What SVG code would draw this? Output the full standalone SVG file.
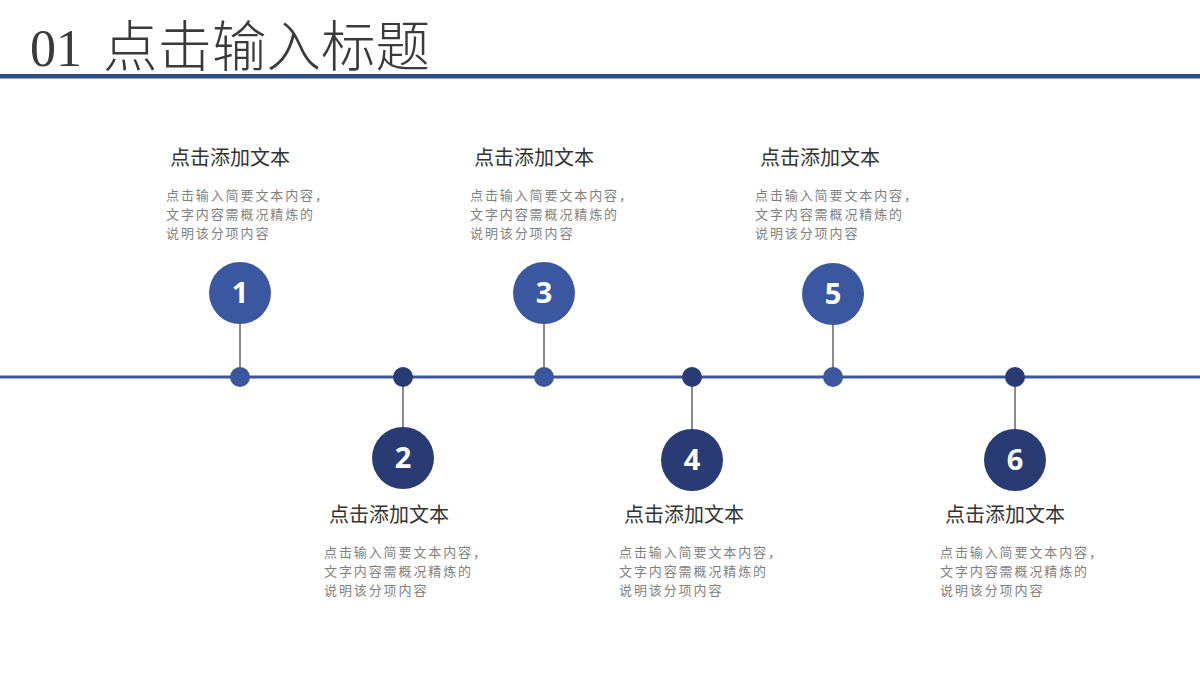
<svg xmlns="http://www.w3.org/2000/svg" width="1200" height="680" viewBox="0 0 1200 680">
<style>
.title{font-family:"Liberation Serif","Noto Sans CJK SC",serif;font-size:52px;fill:#3a3a3a}
.h{font-family:"Microsoft YaHei","Noto Sans CJK SC",sans-serif;font-size:20px;fill:#333}
.b{font-family:"Microsoft YaHei","Noto Sans CJK SC",sans-serif;font-size:13px;letter-spacing:1.9px;fill:#7f7f7f}
.num{font-family:"Open Sans","Noto Sans",sans-serif;font-weight:bold;font-size:29px;fill:#fff;text-anchor:middle}
.light{fill:#3a57a0}
.dark{fill:#283b73}
.stem{stroke:#8c8c8c;stroke-width:2}
</style>
<rect width="1200" height="680" fill="#fff"/>
<g id="header">
<text class="title" x="30" y="66">01</text>
<text class="title" x="103" y="66" style="font-size:54.5px;font-weight:300">点击输入标题</text>
<rect x="0" y="74" width="1200" height="4.5" fill="#2f4a84"/>
</g>
<g id="connectors">
<rect x="0" y="375.5" width="1200" height="3" fill="#3a57a0"/>
<line class="stem" x1="240" y1="323" x2="240" y2="377"/>
<line class="stem" x1="403" y1="377" x2="403" y2="428"/>
<line class="stem" x1="544" y1="323" x2="544" y2="377"/>
<line class="stem" x1="692" y1="377" x2="692" y2="430"/>
<line class="stem" x1="833" y1="324" x2="833" y2="377"/>
<line class="stem" x1="1015" y1="377" x2="1015" y2="430"/>
</g>
<g id="node1">
<circle class="light" cx="240" cy="377" r="10"/>
<circle class="light" cx="240" cy="293" r="31"/>
<text class="num" x="240" y="303">1</text>
<text class="h" x="170" y="165">点击添加文本</text>
<text class="b"><tspan x="166" y="200">点击输入简要文本内容，</tspan><tspan x="166" y="219">文字内容需概况精炼的</tspan><tspan x="166" y="238">说明该分项内容</tspan></text>
</g>
<g id="node2">
<circle class="dark" cx="403" cy="377" r="10"/>
<circle class="dark" cx="403" cy="458" r="31"/>
<text class="num" x="403" y="468">2</text>
<text class="h" x="329" y="522">点击添加文本</text>
<text class="b"><tspan x="324" y="557">点击输入简要文本内容，</tspan><tspan x="324" y="576">文字内容需概况精炼的</tspan><tspan x="324" y="595">说明该分项内容</tspan></text>
</g>
<g id="node3">
<circle class="light" cx="544" cy="377" r="10"/>
<circle class="light" cx="544" cy="293" r="31"/>
<text class="num" x="544" y="303">3</text>
<text class="h" x="474" y="165">点击添加文本</text>
<text class="b"><tspan x="470" y="200">点击输入简要文本内容，</tspan><tspan x="470" y="219">文字内容需概况精炼的</tspan><tspan x="470" y="238">说明该分项内容</tspan></text>
</g>
<g id="node4">
<circle class="dark" cx="692" cy="377" r="10"/>
<circle class="dark" cx="692" cy="460" r="31"/>
<text class="num" x="692" y="470">4</text>
<text class="h" x="624" y="522">点击添加文本</text>
<text class="b"><tspan x="619" y="557">点击输入简要文本内容，</tspan><tspan x="619" y="576">文字内容需概况精炼的</tspan><tspan x="619" y="595">说明该分项内容</tspan></text>
</g>
<g id="node5">
<circle class="light" cx="833" cy="377" r="10"/>
<circle class="light" cx="833" cy="294" r="31"/>
<text class="num" x="833" y="304">5</text>
<text class="h" x="760" y="165">点击添加文本</text>
<text class="b"><tspan x="755" y="200">点击输入简要文本内容，</tspan><tspan x="755" y="219">文字内容需概况精炼的</tspan><tspan x="755" y="238">说明该分项内容</tspan></text>
</g>
<g id="node6">
<circle class="dark" cx="1015" cy="377" r="10"/>
<circle class="dark" cx="1015" cy="460" r="31"/>
<text class="num" x="1015" y="470">6</text>
<text class="h" x="945" y="522">点击添加文本</text>
<text class="b"><tspan x="940" y="557">点击输入简要文本内容，</tspan><tspan x="940" y="576">文字内容需概况精炼的</tspan><tspan x="940" y="595">说明该分项内容</tspan></text>
</g>
</svg>
